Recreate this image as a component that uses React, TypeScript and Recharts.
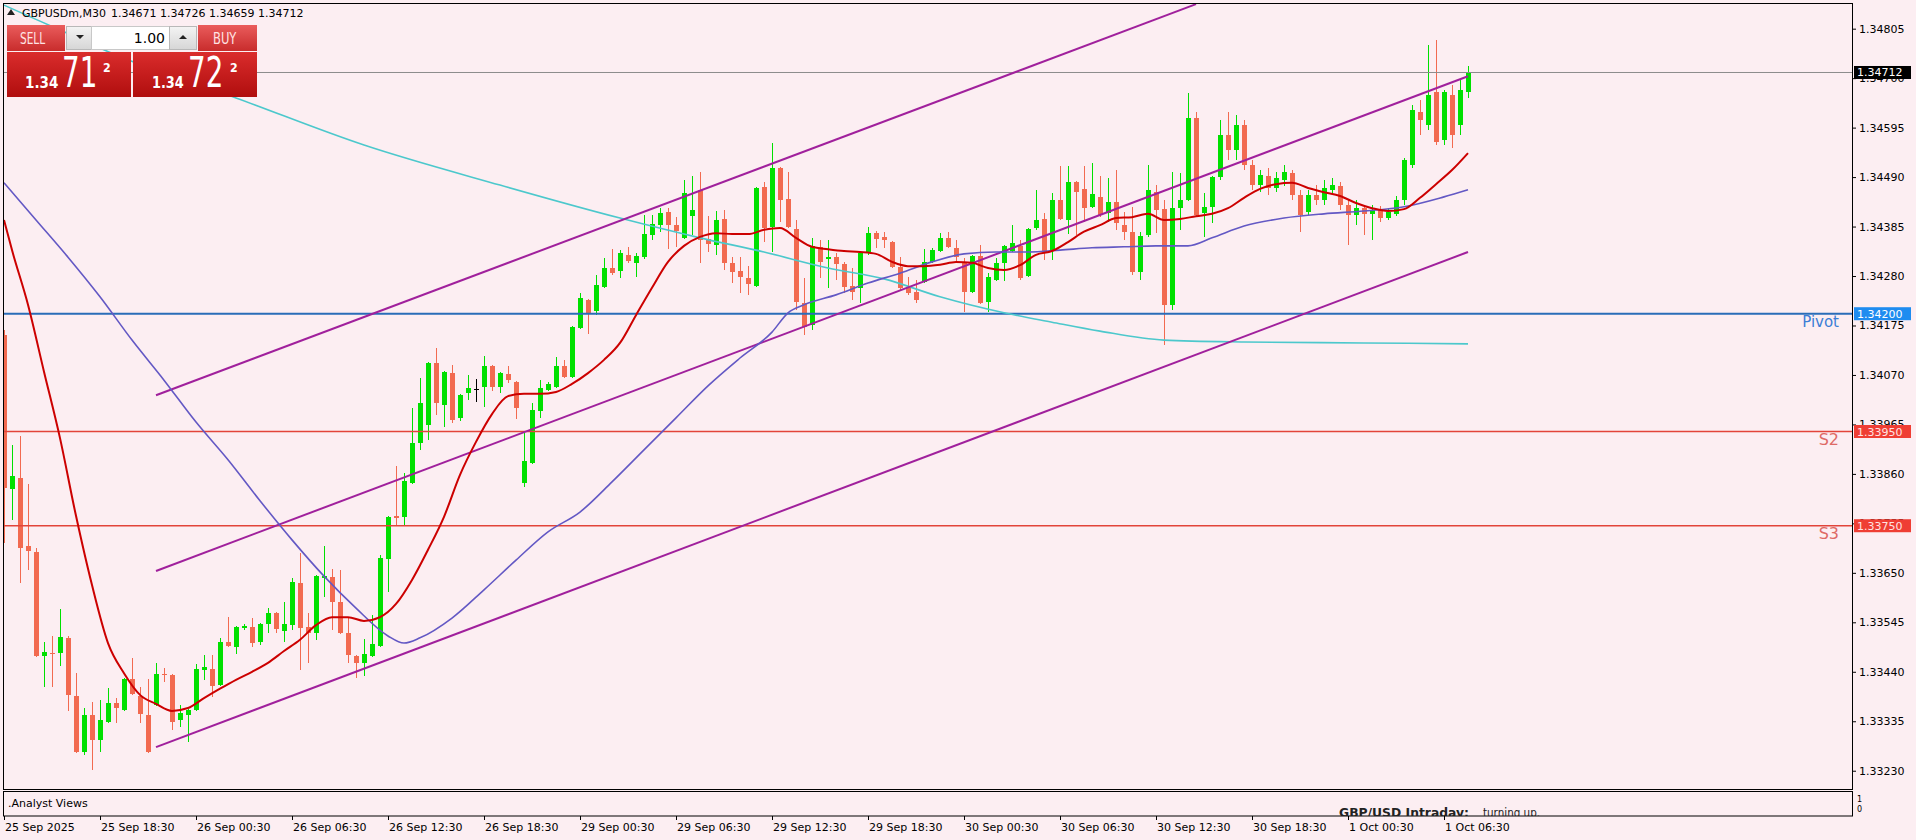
import React from 'react';
import { ComposedChart, Bar, Line, XAxis, YAxis, ReferenceLine } from 'recharts';

// ---------- data ----------
const timeLabels = ['25 Sep 2025', '25 Sep 18:30', '26 Sep 00:30', '26 Sep 06:30', '26 Sep 12:30', '26 Sep 18:30', '29 Sep 00:30', '29 Sep 06:30', '29 Sep 12:30', '29 Sep 18:30', '30 Sep 00:30', '30 Sep 06:30', '30 Sep 12:30', '30 Sep 18:30', '1 Oct 00:30', '1 Oct 06:30'];
const timeTickIdx = [0, 12, 24, 36, 48, 60, 72, 84, 96, 108, 120, 132, 144, 156, 168, 180];

const opens = [
  1.34155, 1.33828, 1.33851, 1.33707, 1.33694, 1.33474, 1.33480, 1.33480, 1.33512, 1.33389,
  1.33270, 1.33348, 1.33295, 1.33333, 1.33374, 1.33359, 1.33425, 1.33389, 1.33348, 1.33370,
  1.33435, 1.33433, 1.33338, 1.33348, 1.33359, 1.33444, 1.33446, 1.33412, 1.33503, 1.33493,
  1.33533, 1.33535, 1.33503, 1.33541, 1.33565, 1.33527, 1.33539, 1.33629, 1.33535, 1.33522,
  1.33639, 1.33641, 1.33588, 1.33522, 1.33474, 1.33459, 1.33474, 1.33495, 1.33679, 1.33771,
  1.33769, 1.33841, 1.33926, 1.33964, 1.34095, 1.34006, 1.34074, 1.33979, 1.34032, 1.34040,
  1.34045, 1.34089, 1.34045, 1.34072, 1.34055, 1.33841, 1.33883, 1.33994, 1.34038, 1.34045,
  1.34089, 1.34066, 1.34170, 1.34229, 1.34206, 1.34257, 1.34297, 1.34291, 1.34325, 1.34308,
  1.34320, 1.34367, 1.34388, 1.34416, 1.34388, 1.34361, 1.34408, 1.34463, 1.34359, 1.34346,
  1.34401, 1.34308, 1.34291, 1.34276, 1.34259, 1.34469, 1.34384, 1.34509, 1.34444, 1.34380,
  1.34223, 1.34176, 1.34342, 1.34316, 1.34320, 1.34306, 1.34259, 1.34255, 1.34331, 1.34371,
  1.34363, 1.34352, 1.34299, 1.34257, 1.34246, 1.34267, 1.34310, 1.34333, 1.34361, 1.34340,
  1.34310, 1.34246, 1.34323, 1.34225, 1.34272, 1.34308, 1.34333, 1.34344, 1.34280, 1.34382,
  1.34401, 1.34335, 1.34441, 1.34399, 1.34480, 1.34465, 1.34427, 1.34448, 1.34414, 1.34437,
  1.34388, 1.34374, 1.34289, 1.34367, 1.34458, 1.34422, 1.34219, 1.34424, 1.34441, 1.34616,
  1.34414, 1.34427, 1.34490, 1.34579, 1.34548, 1.34601, 1.34516, 1.34473, 1.34492, 1.34467,
  1.34484, 1.34499, 1.34452, 1.34416, 1.34452, 1.34441, 1.34463, 1.34471, 1.34431, 1.34410,
  1.34424, 1.34412, 1.34420, 1.34403, 1.34412, 1.34441, 1.34516, 1.34628, 1.34601, 1.34671,
  1.34569, 1.34664, 1.34601, 1.34671,
];
const highs = [
  1.34166, 1.33921, 1.33941, 1.33839, 1.33703, 1.33503, 1.33516, 1.33573, 1.33515, 1.33437,
  1.33363, 1.33376, 1.33380, 1.33406, 1.33384, 1.33427, 1.33469, 1.33408, 1.33425, 1.33459,
  1.33448, 1.33435, 1.33370, 1.33361, 1.33457, 1.33476, 1.33476, 1.33512, 1.33556, 1.33537,
  1.33541, 1.33554, 1.33543, 1.33575, 1.33567, 1.33588, 1.33639, 1.33692, 1.33565, 1.33645,
  1.33707, 1.33658, 1.33656, 1.33554, 1.33476, 1.33510, 1.33561, 1.33688, 1.33771, 1.33877,
  1.33862, 1.34000, 1.34064, 1.34097, 1.34127, 1.34078, 1.34091, 1.34030, 1.34070, 1.34061,
  1.34110, 1.34091, 1.34076, 1.34089, 1.34057, 1.33947, 1.34011, 1.34059, 1.34055, 1.34108,
  1.34102, 1.34174, 1.34244, 1.34231, 1.34282, 1.34318, 1.34337, 1.34335, 1.34342, 1.34329,
  1.34410, 1.34410, 1.34424, 1.34424, 1.34405, 1.34484, 1.34492, 1.34501, 1.34408, 1.34418,
  1.34420, 1.34320, 1.34320, 1.34301, 1.34469, 1.34480, 1.34562, 1.34512, 1.34501, 1.34399,
  1.34276, 1.34361, 1.34357, 1.34357, 1.34329, 1.34310, 1.34297, 1.34331, 1.34384, 1.34376,
  1.34373, 1.34354, 1.34320, 1.34278, 1.34272, 1.34337, 1.34340, 1.34371, 1.34374, 1.34357,
  1.34318, 1.34325, 1.34346, 1.34286, 1.34318, 1.34346, 1.34388, 1.34357, 1.34382, 1.34463,
  1.34414, 1.34456, 1.34514, 1.34514, 1.34482, 1.34514, 1.34520, 1.34492, 1.34488, 1.34505,
  1.34416, 1.34427, 1.34374, 1.34516, 1.34473, 1.34441, 1.34501, 1.34499, 1.34669, 1.34628,
  1.34456, 1.34492, 1.34611, 1.34628, 1.34622, 1.34611, 1.34526, 1.34505, 1.34509, 1.34501,
  1.34516, 1.34505, 1.34463, 1.34463, 1.34473, 1.34484, 1.34488, 1.34480, 1.34441, 1.34441,
  1.34431, 1.34431, 1.34429, 1.34424, 1.34450, 1.34531, 1.34643, 1.34654, 1.34770, 1.34781,
  1.34675, 1.34686, 1.34696, 1.34726,
];
const lows = [
  1.33713, 1.33762, 1.33629, 1.33656, 1.33471, 1.33408, 1.33408, 1.33452, 1.33355, 1.33268,
  1.33263, 1.33232, 1.33270, 1.33331, 1.33331, 1.33357, 1.33391, 1.33331, 1.33268, 1.33368,
  1.33418, 1.33316, 1.33323, 1.33291, 1.33357, 1.33423, 1.33387, 1.33410, 1.33493, 1.33478,
  1.33529, 1.33493, 1.33497, 1.33522, 1.33522, 1.33503, 1.33529, 1.33444, 1.33459, 1.33508,
  1.33599, 1.33529, 1.33520, 1.33459, 1.33427, 1.33431, 1.33472, 1.33493, 1.33609, 1.33752,
  1.33749, 1.33839, 1.33911, 1.33932, 1.33985, 1.33960, 1.33968, 1.33972, 1.34017, 1.34013,
  1.34002, 1.34036, 1.34032, 1.34053, 1.33977, 1.33832, 1.33881, 1.33979, 1.34036, 1.34042,
  1.34064, 1.34064, 1.34168, 1.34157, 1.34197, 1.34255, 1.34282, 1.34276, 1.34308, 1.34278,
  1.34316, 1.34357, 1.34374, 1.34337, 1.34342, 1.34359, 1.34367, 1.34308, 1.34331, 1.34325,
  1.34293, 1.34265, 1.34244, 1.34240, 1.34257, 1.34352, 1.34331, 1.34395, 1.34382, 1.34208,
  1.34155, 1.34166, 1.34276, 1.34255, 1.34272, 1.34244, 1.34229, 1.34223, 1.34325, 1.34340,
  1.34340, 1.34297, 1.34250, 1.34240, 1.34223, 1.34265, 1.34308, 1.34331, 1.34340, 1.34310,
  1.34204, 1.34244, 1.34221, 1.34204, 1.34270, 1.34270, 1.34331, 1.34272, 1.34278, 1.34378,
  1.34314, 1.34314, 1.34399, 1.34369, 1.34367, 1.34395, 1.34424, 1.34405, 1.34395, 1.34378,
  1.34357, 1.34282, 1.34272, 1.34363, 1.34371, 1.34134, 1.34208, 1.34378, 1.34439, 1.34408,
  1.34363, 1.34393, 1.34484, 1.34526, 1.34526, 1.34505, 1.34463, 1.34458, 1.34452, 1.34458,
  1.34471, 1.34441, 1.34374, 1.34410, 1.34431, 1.34431, 1.34452, 1.34420, 1.34346, 1.34388,
  1.34367, 1.34357, 1.34395, 1.34399, 1.34408, 1.34431, 1.34509, 1.34579, 1.34590, 1.34558,
  1.34558, 1.34552, 1.34579, 1.34659,
];
const closes = [
  1.33830, 1.33856, 1.33703, 1.33696, 1.33474, 1.33482, 1.33478, 1.33514, 1.33391, 1.33270,
  1.33348, 1.33295, 1.33338, 1.33374, 1.33363, 1.33425, 1.33393, 1.33350, 1.33270, 1.33435,
  1.33433, 1.33333, 1.33353, 1.33359, 1.33446, 1.33450, 1.33410, 1.33503, 1.33495, 1.33535,
  1.33537, 1.33501, 1.33541, 1.33565, 1.33531, 1.33541, 1.33631, 1.33533, 1.33522, 1.33643,
  1.33643, 1.33588, 1.33522, 1.33476, 1.33459, 1.33478, 1.33499, 1.33682, 1.33769, 1.33766,
  1.33845, 1.33926, 1.34011, 1.34095, 1.34011, 1.34076, 1.33974, 1.34028, 1.34042, 1.34040,
  1.34089, 1.34045, 1.34074, 1.34059, 1.34000, 1.33887, 1.33996, 1.34042, 1.34051, 1.34089,
  1.34066, 1.34172, 1.34233, 1.34202, 1.34261, 1.34297, 1.34286, 1.34329, 1.34312, 1.34323,
  1.34369, 1.34391, 1.34414, 1.34388, 1.34376, 1.34456, 1.34420, 1.34357, 1.34348, 1.34399,
  1.34308, 1.34289, 1.34278, 1.34263, 1.34467, 1.34382, 1.34509, 1.34441, 1.34384, 1.34225,
  1.34172, 1.34344, 1.34310, 1.34320, 1.34306, 1.34257, 1.34246, 1.34329, 1.34371, 1.34359,
  1.34357, 1.34299, 1.34255, 1.34244, 1.34229, 1.34310, 1.34335, 1.34361, 1.34342, 1.34320,
  1.34246, 1.34323, 1.34223, 1.34278, 1.34308, 1.34344, 1.34350, 1.34276, 1.34380, 1.34399,
  1.34331, 1.34441, 1.34401, 1.34480, 1.34458, 1.34424, 1.34454, 1.34410, 1.34437, 1.34393,
  1.34374, 1.34289, 1.34365, 1.34463, 1.34420, 1.34219, 1.34424, 1.34441, 1.34616, 1.34410,
  1.34427, 1.34490, 1.34579, 1.34548, 1.34601, 1.34516, 1.34473, 1.34494, 1.34467, 1.34488,
  1.34501, 1.34452, 1.34410, 1.34452, 1.34441, 1.34467, 1.34473, 1.34431, 1.34410, 1.34424,
  1.34412, 1.34420, 1.34403, 1.34416, 1.34441, 1.34526, 1.34633, 1.34611, 1.34664, 1.34565,
  1.34671, 1.34579, 1.34675, 1.34712,
];

// moving averages: [bar index, value]
const redMA = [
  [0, 1.34399], [1, 1.34335], [3, 1.34219], [5, 1.34077], [7, 1.33936], [9, 1.33771], [11, 1.33624], [13, 1.33501], [15, 1.33437], [17, 1.33391],
  [19, 1.33372], [21, 1.33357], [23, 1.33363], [25, 1.33384], [27, 1.33404], [29, 1.33423], [31, 1.33440], [33, 1.33459], [35, 1.33484], [37, 1.33508],
  [39, 1.33539], [41, 1.33556], [43, 1.33556], [45, 1.33548], [47, 1.33556], [49, 1.33584], [51, 1.33635], [53, 1.33699], [55, 1.33769], [57, 1.33858],
  [59, 1.33928], [61, 1.33987], [63, 1.34025], [65, 1.34030], [67, 1.34030], [69, 1.34034], [71, 1.34051], [73, 1.34074], [75, 1.34102], [77, 1.34138],
  [79, 1.34197], [81, 1.34255], [83, 1.34310], [85, 1.34344], [87, 1.34363], [89, 1.34371], [91, 1.34369], [93, 1.34369], [95, 1.34378], [97, 1.34382],
  [99, 1.34361], [101, 1.34342], [103, 1.34337], [105, 1.34333], [107, 1.34331], [109, 1.34327], [111, 1.34310], [113, 1.34301], [115, 1.34301], [117, 1.34304],
  [119, 1.34310], [121, 1.34308], [123, 1.34297], [125, 1.34293], [127, 1.34303], [129, 1.34325], [131, 1.34333], [133, 1.34352], [135, 1.34374], [137, 1.34388],
  [139, 1.34403], [141, 1.34405], [143, 1.34412], [145, 1.34399], [147, 1.34401], [149, 1.34407], [151, 1.34412], [153, 1.34424], [155, 1.34446], [157, 1.34465],
  [159, 1.34475], [161, 1.34478], [163, 1.34467], [165, 1.34458], [167, 1.34450], [169, 1.34435], [171, 1.34424], [173, 1.34418], [175, 1.34422], [177, 1.34446],
  [179, 1.34475], [181, 1.34505], [183, 1.34541],
];
const blueMA = [
  [0, 1.34478], [4, 1.34399], [8, 1.34320], [12, 1.34236], [16, 1.34144], [20, 1.34059], [24, 1.33970], [28, 1.33890], [32, 1.33803], [36, 1.33720],
  [40, 1.33643], [44, 1.33575], [48, 1.33516], [50, 1.33501], [52, 1.33512], [56, 1.33554], [60, 1.33614], [64, 1.33677], [68, 1.33737], [72, 1.33779],
  [76, 1.33843], [80, 1.33911], [84, 1.33979], [88, 1.34047], [92, 1.34106], [96, 1.34161], [98, 1.34202], [100, 1.34219], [104, 1.34240], [108, 1.34265],
  [112, 1.34286], [116, 1.34310], [120, 1.34327], [124, 1.34331], [128, 1.34331], [132, 1.34335], [136, 1.34340], [140, 1.34342], [144, 1.34344], [148, 1.34344],
  [151, 1.34361], [155, 1.34386], [160, 1.34403], [165, 1.34412], [170, 1.34418], [175, 1.34427], [180, 1.34448], [183, 1.34463],
];
const cyanMA = [
  [0, 1.34855], [7, 1.34802], [14, 1.34749], [29, 1.34658], [45, 1.34558], [62, 1.34473], [77, 1.34403], [87, 1.34361], [95, 1.34331], [103, 1.34297],
  [110, 1.34274], [117, 1.34236], [125, 1.34202], [131, 1.34182], [137, 1.34163], [145, 1.34144], [155, 1.34140], [170, 1.34138], [183, 1.34136],
];

// equidistant channel
const channelUpper = [[19, 1.34027], [149, 1.34857]];
const channelMiddle = [[19, 1.33654], [183, 1.34704]];
const channelLower = [[19, 1.33280], [183, 1.34331]];

const priceTicks = [1.3323, 1.33335, 1.3344, 1.33545, 1.3365, 1.33755, 1.3386, 1.33965, 1.3407, 1.34175, 1.3428, 1.34385, 1.3449, 1.34595, 1.347, 1.34805];
const lastPrice = 1.34712;
const pivotLevel = 1.342;
const s2Level = 1.3395;
const s3Level = 1.3375;

const header = { symbol: 'GBPUSDm,M30', ohlc: '1.34671 1.34726 1.34659 1.34712' };
const bidParts = ['1.34', '71', '2'];
const askParts = ['1.34', '72', '2'];
const lotSize = '1.00';
const paneTitle = '.Analyst Views';
const paneHeadline = 'GBP/USD Intraday:';
const paneText = 'turning up.';

// ---------- build ----------
const candles = opens.map((o, i) => ({ i, o, h: highs[i], l: lows[i], c: closes[i] }));
const toPts = (arr: number[][]) => arr.map(([i, v]) => ({ i, v }));

const FONT = 'DejaVu Sans, Verdana, sans-serif';
const BG = '#FCEEF2';
const BULL = '#00E000';
const BEAR = '#F26A50';

const Candle = (props: any) => {
  const { x, y, width, height, payload } = props;
  if (x == null || payload == null) return null;
  const { o, h, l, c } = payload;
  const top = Math.min(y, y + height);
  const bot = Math.max(y, y + height);
  const span = h - l;
  const py = (v: number) => (span > 0 ? top + ((h - v) / span) * (bot - top) : top);
  const cx = Math.round(x + width / 2);
  const col = c > o ? BULL : c < o ? BEAR : '#000';
  const bt = Math.round(py(Math.max(o, c)));
  const bb = Math.round(py(Math.min(o, c)));
  return (
    <g>
      <rect x={cx} y={Math.round(top)} width={1} height={Math.max(1, Math.round(bot - top))} fill={col} />
      <rect x={cx - 2} y={bt} width={5} height={Math.max(1, bb - bt)} fill={col} />
    </g>
  );
};

const XTick = (props: any) => {
  const { x, payload } = props;
  const k = timeTickIdx.indexOf(payload.value);
  if (k < 0) return null;
  return (
    <g>
      <line x1={x + 0.5} x2={x + 0.5} y1={816} y2={820} stroke="#000" />
      <text x={x + 1} y={831} fontSize={11} fontFamily={FONT} fill="#000" textAnchor="start">{timeLabels[k]}</text>
    </g>
  );
};

const special: Record<string, { box: string; txt: string; label?: string; lcol?: string; lsize?: number }> = {
  [lastPrice.toFixed(5)]: { box: '#000000', txt: '#FFFFFF' },
  [pivotLevel.toFixed(5)]: { box: '#1E8CF0', txt: '#FFFFFF', label: 'Pivot', lcol: '#3C7ED6', lsize: 15 },
  [s2Level.toFixed(5)]: { box: '#EF3E34', txt: '#FFE2E2', label: 'S2', lcol: '#DE6A66', lsize: 16 },
  [s3Level.toFixed(5)]: { box: '#EF3E34', txt: '#FFE2E2', label: 'S3', lcol: '#DE6A66', lsize: 16 },
};

const YTick = (props: any) => {
  const { y, payload } = props;
  const key = Number(payload.value).toFixed(5);
  const sp = special[key];
  if (sp) {
    return (
      <g>
        <rect x={1854} y={y - 6.5} width={57} height={13} fill={sp.box} />
        <text x={1857} y={y + 4} fontSize={11} fontFamily={FONT} fill={sp.txt}>{key}</text>
        {sp.label ? (
          <text x={1839} y={y + 13} fontSize={sp.lsize} fontFamily={FONT} fill={sp.lcol} textAnchor="end">{sp.label}</text>
        ) : null}
      </g>
    );
  }
  return (
    <g>
      <line x1={1852} x2={1856} y1={y + 0.5} y2={y + 0.5} stroke="#000" />
      <text x={1859} y={y + 4} fontSize={11} fontFamily={FONT} fill="#000">{key}</text>
    </g>
  );
};

const allYTicks = [...priceTicks, s3Level, s2Level, pivotLevel, lastPrice];

// narrow text helper: horizontal squeeze via transform
const Narrow = ({ x, y, sx, size, bold, fill, children }: any) => (
  <text transform={`translate(${x},${y}) scale(${sx},1)`} fontSize={size} fontWeight={bold ? 'bold' : 'normal'} fontFamily={FONT} fill={fill}>
    {children}
  </text>
);

export default function App() {
  return (
    <div style={{ position: 'absolute', left: 0, top: 0, width: 1916, height: 840, background: BG, overflow: 'hidden' }}>
      <div style={{ position: 'absolute', left: 0, top: 0 }}>
        <ComposedChart width={1916} height={840} data={candles} margin={{ top: 3, right: 0, bottom: 0, left: 3 }}>
          <XAxis
            dataKey="i"
            type="number"
            domain={[-0.125, 231]}
            allowDataOverflow
            ticks={timeTickIdx}
            interval={0}
            height={51}
            axisLine={false}
            tickLine={false}
            tick={<XTick />}
          />
          <YAxis
            orientation="right"
            type="number"
            domain={[1.331912, 1.348595]}
            allowDataOverflow
            ticks={allYTicks}
            interval={0}
            width={64}
            axisLine={false}
            tickLine={false}
            tick={<YTick />}
          />
          <ReferenceLine y={lastPrice} stroke="#8C8C8C" strokeWidth={1} />
          <ReferenceLine y={pivotLevel} stroke="#2A6DB8" strokeWidth={2} />
          <ReferenceLine y={s2Level} stroke="#E2443A" strokeWidth={1.6} />
          <ReferenceLine y={s3Level} stroke="#E2443A" strokeWidth={1.6} />
          <Line data={toPts(cyanMA)} dataKey="v" type="monotone" stroke="#4CC8CC" strokeWidth={1.6} dot={false} isAnimationActive={false} />
          <Bar dataKey={(d: any) => [d.l, d.h]} barSize={5} isAnimationActive={false} shape={(p: any) => <Candle {...p} />} />
          <Line data={toPts(channelUpper)} dataKey="v" type="linear" stroke="#A0209C" strokeWidth={2} dot={false} isAnimationActive={false} />
          <Line data={toPts(channelMiddle)} dataKey="v" type="linear" stroke="#A0209C" strokeWidth={2} dot={false} isAnimationActive={false} />
          <Line data={toPts(channelLower)} dataKey="v" type="linear" stroke="#A0209C" strokeWidth={2} dot={false} isAnimationActive={false} />
          <Line data={toPts(blueMA)} dataKey="v" type="monotone" stroke="#6358C4" strokeWidth={1.6} dot={false} isAnimationActive={false} />
          <Line data={toPts(redMA)} dataKey="v" type="monotone" stroke="#CC0000" strokeWidth={2} dot={false} isAnimationActive={false} />
        </ComposedChart>
      </div>
      <svg width={1916} height={840} style={{ position: 'absolute', left: 0, top: 0, pointerEvents: 'none' }}>
        <defs>
          <linearGradient id="gTop" x1="0" y1="0" x2="0" y2="1">
            <stop offset="0" stopColor="#EA5C5C" />
            <stop offset="1" stopColor="#C82C2C" />
          </linearGradient>
          <linearGradient id="gBot" x1="0" y1="0" x2="0" y2="1">
            <stop offset="0" stopColor="#DA2C2C" />
            <stop offset="1" stopColor="#B00E0E" />
          </linearGradient>
          <linearGradient id="gGray" x1="0" y1="0" x2="0" y2="1">
            <stop offset="0" stopColor="#F4F4F4" />
            <stop offset="1" stopColor="#D6D6D6" />
          </linearGradient>
          <clipPath id="paneClip">
            <rect x={4} y={792} width={1848} height={24} />
          </clipPath>
        </defs>
        {/* frames */}
        <rect x={3.5} y={3.5} width={1849} height={786} fill="none" stroke="#000" strokeWidth={1} />
        <rect x={3.5} y={791.5} width={1849} height={24.5} fill="none" stroke="#000" strokeWidth={1} />
        {/* header */}
        <polygon points="7,15 15,15 11,9" fill="#222" />
        <text x={22} y={17} fontSize={11} fontFamily={FONT} fill="#000">{header.symbol}</text>
        <text x={111} y={17} fontSize={11} fontFamily={FONT} fill="#000">{header.ohlc}</text>
        {/* trade panel */}
        <rect x={7} y={25} width={58} height={26} fill="url(#gTop)" />
        <Narrow x={20} y={44} sx={0.66} size={16} fill="#FFE4E4">SELL</Narrow>
        <rect x={66.5} y={26.5} width={25} height={23} fill="url(#gGray)" stroke="#B8B8B8" />
        <polygon points="76,35 84,35 80,39" fill="#222" />
        <rect x={91.5} y={26.5} width={78} height={23} fill="#FFFFFF" stroke="#C8C8C8" />
        <text x={165} y={43} fontSize={14} fontFamily={FONT} fill="#000" textAnchor="end">{lotSize}</text>
        <rect x={169.5} y={26.5} width={27} height={23} fill="url(#gGray)" stroke="#B8B8B8" />
        <polygon points="179,39 187,39 183,35" fill="#222" />
        <rect x={198} y={25} width={59} height={26} fill="url(#gTop)" />
        <Narrow x={213} y={44} sx={0.72} size={16} fill="#FFE4E4">BUY</Narrow>
        <rect x={7} y={52} width={124} height={45} fill="url(#gBot)" />
        <rect x={133} y={52} width={124} height={45} fill="url(#gBot)" />
        <Narrow x={25} y={88} sx={0.9} size={15} bold fill="#FFF">{bidParts[0]}</Narrow>
        <Narrow x={62} y={87} sx={0.66} size={42} fill="#FFF">{bidParts[1]}</Narrow>
        <Narrow x={103} y={72} sx={0.85} size={13} bold fill="#FFF">{bidParts[2]}</Narrow>
        <Narrow x={152} y={88} sx={0.86} size={15} bold fill="#FFF">{askParts[0]}</Narrow>
        <Narrow x={188} y={87} sx={0.66} size={42} fill="#FFF">{askParts[1]}</Narrow>
        <Narrow x={230} y={72} sx={0.85} size={13} bold fill="#FFF">{askParts[2]}</Narrow>
        {/* lower pane */}
        <text x={8} y={807} fontSize={11} fontFamily={FONT} fill="#000">{paneTitle}</text>
        <g clipPath="url(#paneClip)">
          <text x={1339} y={817} fontSize={13} fontWeight="bold" fontFamily={FONT} fill="#222" textDecoration="underline" textLength={130} lengthAdjust="spacingAndGlyphs">{paneHeadline}</text>
          <text x={1483} y={817} fontSize={13} fontFamily={FONT} fill="#222" textLength={57} lengthAdjust="spacingAndGlyphs">{paneText}</text>
        </g>
        <text x={1857} y={802} fontSize={8} fontFamily={FONT} fill="#000">1</text>
        <text x={1857} y={812} fontSize={8} fontFamily={FONT} fill="#000">0</text>
      </svg>
    </div>
  );
}
